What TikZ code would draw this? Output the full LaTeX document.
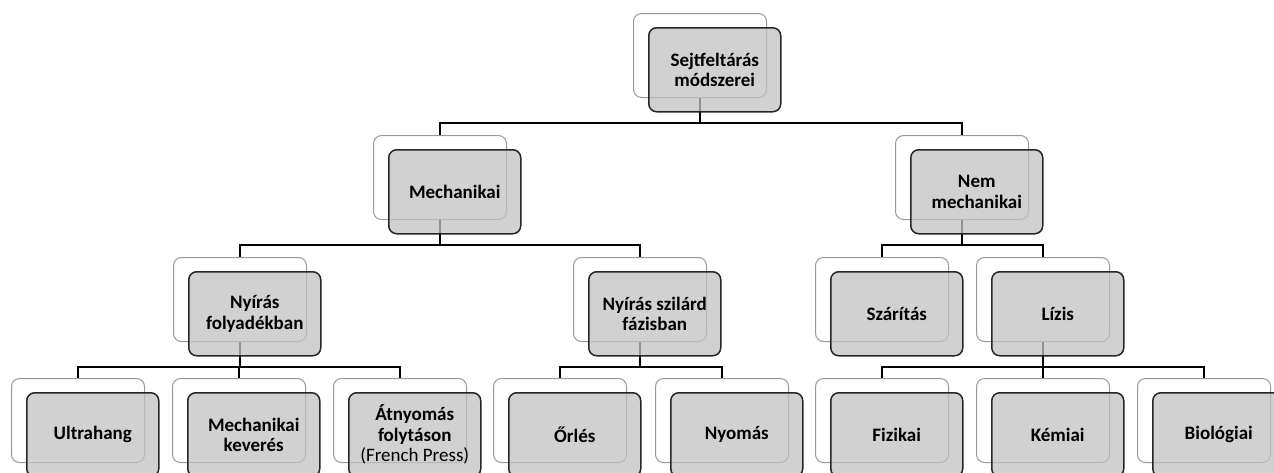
\documentclass[tikz,border=0pt]{standalone}
\usepackage{fontspec}
\setmainfont{Carlito}
\begin{document}
\begin{tikzpicture}[x=1pt,y=-1pt,
  back/.style={draw=black!40, line width=1pt, fill=white, rounded corners=8pt,
    minimum width=133pt, minimum height=84pt, anchor=north west, inner sep=0pt},
  front/.style={draw=black!85, line width=1.5pt, fill=black!24, fill opacity=0.75,
    text opacity=1, rounded corners=8pt, minimum width=132pt, minimum height=84pt,
    anchor=north west, align=center, inner sep=0pt,
    font=\fontsize{19}{20.5}\selectfont\bfseries},
  conn/.style={line width=2.6pt, black}]
\clip (0,0) rectangle (1274,472);
\useasboundingbox (0,0) rectangle (1274,472);
% back boxes
\node[back] (s) at (633,13) {};
\node[back] (m) at (373,135) {};
\node[back] (n) at (895,135) {};
\node[back] (nyf) at (173,257) {};
\node[back] (nysz) at (573,257) {};
\node[back] (sz) at (815,257) {};
\node[back] (l) at (976,257) {};
\node[back] (u) at (11,378) {};
\node[back] (mk) at (172,378) {};
\node[back] (at) at (333,378) {};
\node[back] (o) at (493,378) {};
\node[back] (ny) at (655,378) {};
\node[back] (f) at (815,378) {};
\node[back] (k) at (976,378) {};
\node[back] (b) at (1137,378) {};
% connectors
\coordinate (h1) at (0,123);
\coordinate (h2) at (0,245);
\coordinate (h3) at (0,367);
\draw[conn] (s.south) -- (s.south |- h1) -| (m.north);
\draw[conn] (s.south |- h1) -| (n.north);
\draw[conn] (m.south) -- (m.south |- h2) -| (nyf.north);
\draw[conn] (m.south |- h2) -| (nysz.north);
\draw[conn] (n.south) -- (n.south |- h2) -| (sz.north);
\draw[conn] (n.south |- h2) -| (l.north);
\draw[conn] (nyf.south) -- (nyf.south |- h3) -| (u.north);
\draw[conn] (nyf.south |- h3) -| (mk.north);
\draw[conn] (nyf.south |- h3) -| (at.north);
\draw[conn] (nysz.south) -- (nysz.south |- h3) -| (o.north);
\draw[conn] (nysz.south |- h3) -| (ny.north);
\draw[conn] (l.south) -- (l.south |- h3) -| (f.north);
\draw[conn] (l.south |- h3) -| (k.north);
\draw[conn] (l.south |- h3) -| (b.north);
% front boxes
\node[front] (sF) at (648,27) {Sejtfeltárás\\módszerei};
\node[front] (mF) at (388,149) {Mechanikai};
\node[front] (nF) at (910,149) {Nem\\mechanikai};
\node[front] (nyfF) at (188,271) {Nyírás\\folyadékban};
\node[front] (nyszF) at (588,271) {Nyírás szilárd\\fázisban};
\node[front] (szF) at (830,271) {Szárítás};
\node[front] (lF) at (991,271) {Lízis};
\node[front] (uF) at (26,392) {Ultrahang};
\node[front] (mkF) at (187,392) {Mechanikai\\keverés};
\node[front] (atF) at (348,392) {Átnyomás\\folytáson\\{\mdseries (French Press)}};
\node[front] (oF) at (508,392) {Őrlés};
\node[front] (nyF) at (670,392) {Nyomás};
\node[front] (fF) at (830,392) {Fizikai};
\node[front] (kF) at (991,392) {Kémiai};
\node[front] (bF) at (1152,392) {Biológiai};
\end{tikzpicture}
\end{document}
